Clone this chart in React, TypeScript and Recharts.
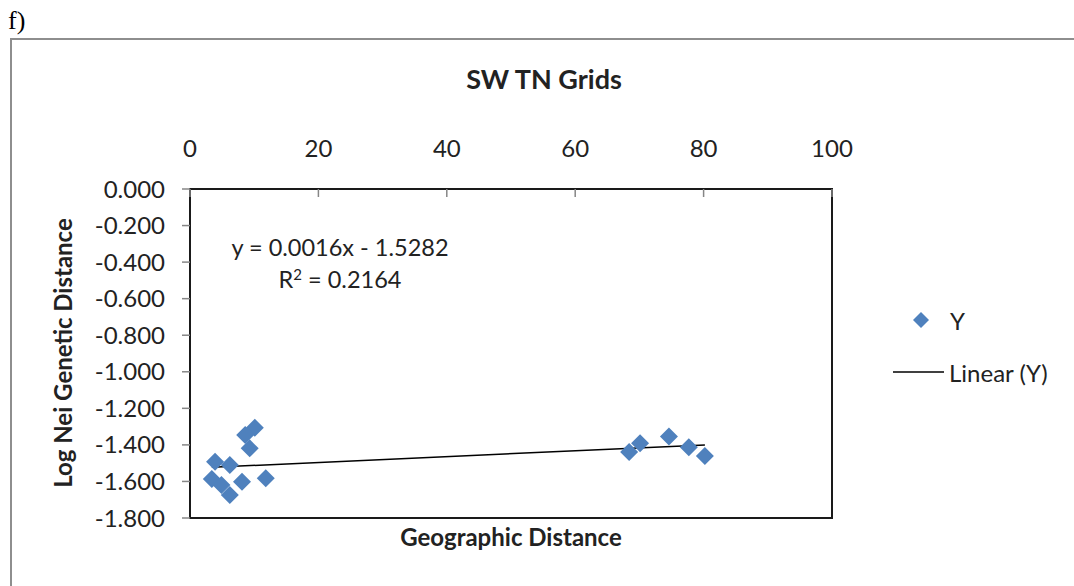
import React from 'react';
import { ReferenceArea, Scatter, ScatterChart, XAxis, YAxis } from 'recharts';

// geographic distance vs log Nei genetic distance
const geoDist = [10.1, 8.6, 9.3, 3.9, 6.2, 3.4, 4.9, 6.2, 8.1, 11.8, 68.4, 70.1, 74.6, 77.7, 80.2];
const logNei = [
  -1.306, -1.346, -1.419, -1.492, -1.51, -1.586, -1.619, -1.674, -1.601, -1.583, -1.439, -1.391,
  -1.354, -1.413, -1.461,
];

// Linear (Y) trendline end points
const trendX = [3.4, 80.2];
const trendY = [-1.523, -1.4];

const xTicks = [0, 20, 40, 60, 80, 100];
const yTicks = [0, -0.2, -0.4, -0.6, -0.8, -1.0, -1.2, -1.4, -1.6, -1.8];

const seriesName = 'Y';
const trendName = 'Linear (Y)';
const equation = 'y = 0.0016x - 1.5282';
const rSquared = '0.2164';

const BLUE = '#4F81BD';
const TICK_GRAY = '#868686';
const TEXT = '#222222';
const FONT = 'Lato, "Open Sans", sans-serif';

const points = geoDist.map((x, i) => ({ x, y: logNei[i] }));
const trend = trendX.map((x, i) => ({ x, y: trendY[i] }));

const Diamond = (props: any) => {
  const { cx, cy } = props;
  const r = 9;
  return <polygon points={`${cx},${cy - r} ${cx + r},${cy} ${cx},${cy + r} ${cx - r},${cy}`} fill={BLUE} />;
};

const tickStyle = { fill: TEXT, fontSize: 24, fontFamily: FONT };

export default function App() {
  return (
    <div
      style={{
        position: 'absolute',
        left: 0,
        top: 0,
        width: 1074,
        height: 586,
        overflow: 'hidden',
        background: '#fff',
        fontFamily: FONT,
        color: TEXT,
      }}
    >
      <div style={{ position: 'absolute', left: 8, top: 8, fontFamily: '"Liberation Serif", serif', fontSize: 26, lineHeight: 1, color: '#000' }}>
        f)
      </div>
      <div style={{ position: 'absolute', left: 10, top: 38, width: 1090, height: 600, border: '2px solid #8e8e8e' }} />

      <div style={{ position: 'absolute', left: 0, top: 0 }}>
        <ScatterChart width={1074} height={586} margin={{ top: 139, right: 242, bottom: 68, left: 100 }}>
          <XAxis
            type="number"
            dataKey="x"
            orientation="top"
            height={50}
            domain={[0, 100]}
            ticks={xTicks}
            tick={tickStyle}
            tickSize={-8}
            tickMargin={40}
            tickLine={{ stroke: TICK_GRAY, strokeWidth: 1.5 }}
            axisLine={false}
          />
          <YAxis
            type="number"
            dataKey="y"
            width={90}
            domain={[-1.8, 0]}
            ticks={yTicks}
            tickFormatter={(v: number) => v.toFixed(3)}
            tick={tickStyle}
            tickSize={8}
            tickMargin={17}
            tickLine={{ stroke: TICK_GRAY, strokeWidth: 1.5 }}
            axisLine={false}
          />
          <ReferenceArea x1={0} x2={100} y1={-1.8} y2={0} fill="none" stroke="#1a1a1a" strokeWidth={2} />
          <Scatter name={trendName} data={trend} line={{ stroke: '#000', strokeWidth: 1.5 }} shape={() => <g />} isAnimationActive={false} />
          <Scatter name={seriesName} data={points} shape={Diamond} isAnimationActive={false} />
        </ScatterChart>
      </div>

      <div style={{ position: 'absolute', left: 0, width: 1088, top: 62, textAlign: 'center', fontWeight: 700, fontSize: 27 }}>
        SW TN Grids
      </div>
      <div style={{ position: 'absolute', left: 190, width: 642, top: 522, textAlign: 'center', fontWeight: 700, fontSize: 24 }}>
        Geographic Distance
      </div>
      <div
        style={{
          position: 'absolute',
          left: 62,
          top: 353,
          transform: 'translate(-50%, -50%) rotate(-90deg)',
          whiteSpace: 'nowrap',
          fontWeight: 700,
          fontSize: 24,
        }}
      >
        Log Nei Genetic Distance
      </div>
      <div style={{ position: 'absolute', left: 190, width: 300, top: 231, textAlign: 'center', fontSize: 23.5, lineHeight: '32px' }}>
        <div>{equation}</div>
        <div>
          R<sup style={{ fontSize: 15, verticalAlign: 'top', lineHeight: '22px' }}>2</sup> = {rSquared}
        </div>
      </div>

      <div style={{ position: 'absolute', left: 892, top: 305, fontSize: 24 }}>
        <div style={{ display: 'flex', alignItems: 'center', height: 30 }}>
          <svg width={56} height={20}>
            <polygon points="29,2 37,10 29,18 21,10" fill={BLUE} />
          </svg>
          <span style={{ marginLeft: 2 }}>{seriesName}</span>
        </div>
        <div style={{ display: 'flex', alignItems: 'center', height: 30, marginTop: 22 }}>
          <svg width={54} height={20}>
            <line x1={1} y1={10} x2={52} y2={10} stroke="#000" strokeWidth={1.5} />
          </svg>
          <span style={{ marginLeft: 3 }}>{trendName}</span>
        </div>
      </div>
    </div>
  );
}
